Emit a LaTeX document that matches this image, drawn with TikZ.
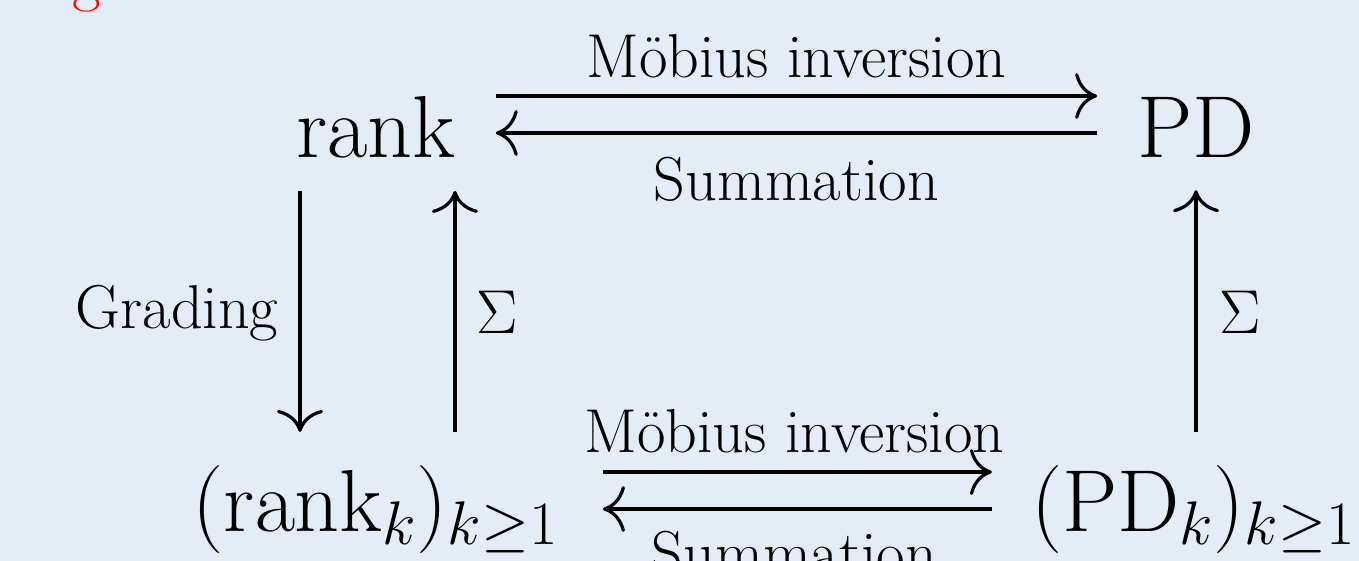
\RequirePackage{fix-cm}
\documentclass[tikz,border=0pt]{standalone}
\usetikzlibrary{arrows.meta}
\definecolor{bgc}{RGB}{228,236,245}
\begin{document}
\begin{tikzpicture}[x=1pt,y=-1pt,
  big/.style={font=\fontsize{88}{100}\selectfont, inner sep=0pt, anchor=base},
  lab/.style={font=\fontsize{62}{70}\selectfont, inner sep=0pt},
  arr/.style={line width=3.2pt, -{Computer Modern Rightarrow[length=22pt,width=46pt]}}]
\useasboundingbox (0,0) rectangle (1359,560);
\fill[bgc] (-10,-10) rectangle (1369,570);
\node[lab, text=red, anchor=base] (ttl) at (87,-1) {g};
\node[big] (rank) at (376,157) {rank};
\node[big] (PD) at (1196,157) {PD};
\node[big] (rk) at (375,531) {$(\mathrm{rank}_k)_{k\geq 1}$};
\node[big] (pk) at (1193,531) {$(\mathrm{PD}_k)_{k\geq 1}$};
\coordinate (hA) at (0,96);
\coordinate (hB) at (0,133);
\coordinate (hC) at (0,472);
\coordinate (hD) at (0,509);
\coordinate (vL) at (300,0);
\coordinate (vR) at (455,0);
\coordinate (vP) at (1196,0);
% top row
\draw[arr, shorten <=40pt, shorten >=40pt] (rank.east |- hA) -- node[lab, anchor=base, yshift=19pt] (l1) {M\"obius inversion} (PD.west |- hA);
\draw[arr, shorten <=40pt, shorten >=40pt] (PD.west |- hB) -- node[lab, anchor=base, yshift=-67pt] (l2) {Summation} (rank.east |- hB);
% verticals
\draw[arr, shorten <=33pt, shorten >=33pt] (rank.south -| vL) -- node[lab, anchor=base east, xshift=-20pt, yshift=-17pt] (l3) {Grading} (rk.north -| vL);
\draw[arr, shorten <=33pt, shorten >=33pt] (rk.north -| vR) -- node[lab, anchor=base west, xshift=20pt, yshift=-22pt] (l4) {$\Sigma$} (rank.south -| vR);
\draw[arr, shorten <=33pt, shorten >=33pt] (pk.north -| vP) -- node[lab, anchor=base west, xshift=22pt, yshift=-22pt] (l5) {$\Sigma$} (PD.south -| vP);
% bottom row
\draw[arr, shorten <=45pt, shorten >=39pt] (rk.east |- hC) -- node[lab, anchor=base, yshift=20pt] (l6) {M\"obius inversion} (pk.west |- hC);
\draw[arr, shorten <=39pt, shorten >=45pt] (pk.west |- hD) -- node[lab, anchor=base, yshift=-65pt] (l7) {Summation} (rk.east |- hD);
\end{tikzpicture}
\end{document}
